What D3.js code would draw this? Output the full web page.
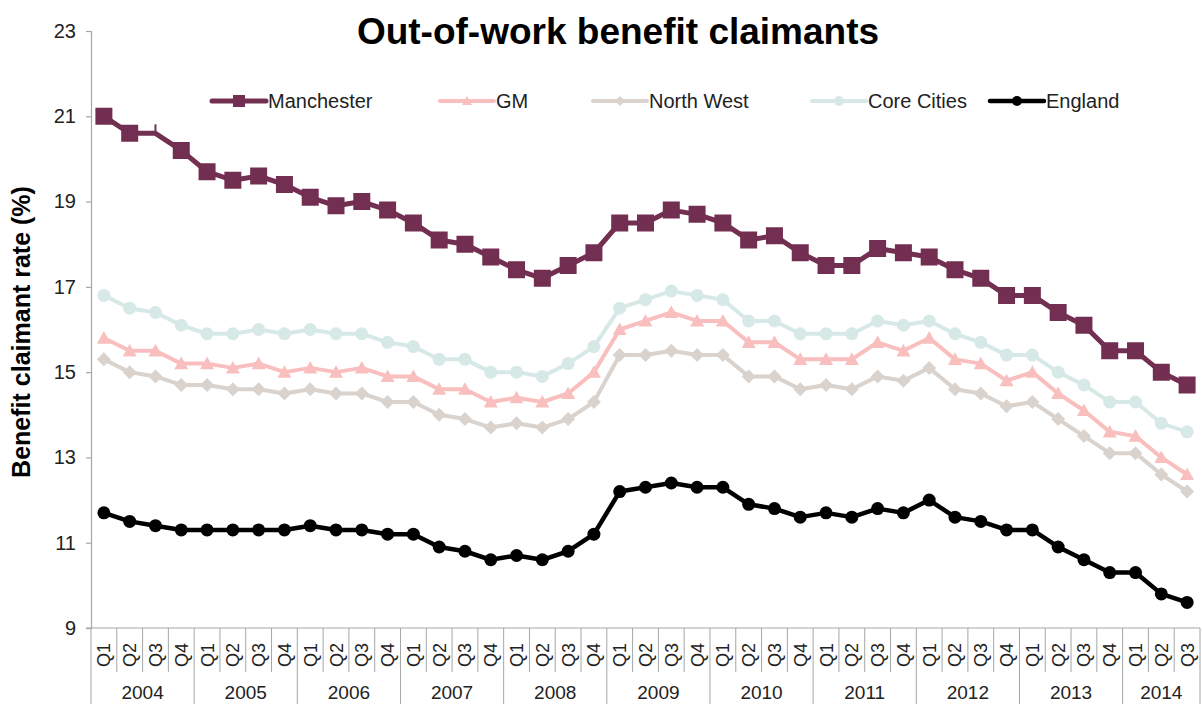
<!DOCTYPE html>
<html>
<head>
<meta charset="utf-8">
<script src="https://cdn.jsdelivr.net/npm/d3@7"></script>
<style>
  body { margin: 0; background: #fff; }
  svg { font-family: "Liberation Sans", Arial, sans-serif; }
</style>
</head>
<body>
<div id="chart"></div>
<script>
var width = 1202;
var height = 704;

var years = [2004, 2005, 2006, 2007, 2008, 2009, 2010, 2011, 2012, 2013, 2014];
var quarters = ["Q1", "Q2", "Q3", "Q4"];
var yTicks = [9, 11, 13, 15, 17, 19, 21, 23];

// 43 quarters, Q1 2004 .. Q3 2014
var manchester = [21.0, 20.6, 20.6, 20.2, 19.7, 19.5, 19.6, 19.4, 19.1, 18.9, 19.0, 18.8, 18.5, 18.1, 18.0, 17.7, 17.4, 17.2, 17.5, 17.8, 18.5, 18.5, 18.8, 18.7, 18.5, 18.1, 18.2, 17.8, 17.5, 17.5, 17.9, 17.8, 17.7, 17.4, 17.2, 16.8, 16.8, 16.4, 16.1, 15.5, 15.5, 15.0, 14.7];
var gm = [15.8, 15.5, 15.5, 15.2, 15.2, 15.1, 15.2, 15.0, 15.1, 15.0, 15.1, 14.9, 14.9, 14.6, 14.6, 14.3, 14.4, 14.3, 14.5, 15.0, 16.0, 16.2, 16.4, 16.2, 16.2, 15.7, 15.7, 15.3, 15.3, 15.3, 15.7, 15.5, 15.8, 15.3, 15.2, 14.8, 15.0, 14.5, 14.1, 13.6, 13.5, 13.0, 12.6];
var northWest = [15.3, 15.0, 14.9, 14.7, 14.7, 14.6, 14.6, 14.5, 14.6, 14.5, 14.5, 14.3, 14.3, 14.0, 13.9, 13.7, 13.8, 13.7, 13.9, 14.3, 15.4, 15.4, 15.5, 15.4, 15.4, 14.9, 14.9, 14.6, 14.7, 14.6, 14.9, 14.8, 15.1, 14.6, 14.5, 14.2, 14.3, 13.9, 13.5, 13.1, 13.1, 12.6, 12.2];
var coreCities = [16.8, 16.5, 16.4, 16.1, 15.9, 15.9, 16.0, 15.9, 16.0, 15.9, 15.9, 15.7, 15.6, 15.3, 15.3, 15.0, 15.0, 14.9, 15.2, 15.6, 16.5, 16.7, 16.9, 16.8, 16.7, 16.2, 16.2, 15.9, 15.9, 15.9, 16.2, 16.1, 16.2, 15.9, 15.7, 15.4, 15.4, 15.0, 14.7, 14.3, 14.3, 13.8, 13.6];
var england = [11.7, 11.5, 11.4, 11.3, 11.3, 11.3, 11.3, 11.3, 11.4, 11.3, 11.3, 11.2, 11.2, 10.9, 10.8, 10.6, 10.7, 10.6, 10.8, 11.2, 12.2, 12.3, 12.4, 12.3, 12.3, 11.9, 11.8, 11.6, 11.7, 11.6, 11.8, 11.7, 12.0, 11.6, 11.5, 11.3, 11.3, 10.9, 10.6, 10.3, 10.3, 9.8, 9.6];

// category list: year + quarter
var cats = [];
years.forEach(function(yr) {
  quarters.forEach(function(q) {
    if (cats.length < manchester.length) cats.push({year: yr, q: q, key: yr + q});
  });
});

// drawing order: light series first, Manchester / England on top
var series = [
  {name: "North West", values: northWest, color: "#d9d2cd", marker: "diamond", size: 14, lw: 4},
  {name: "GM", values: gm, color: "#f9bfbe", marker: "triangle", size: 14, lw: 4},
  {name: "Core Cities", values: coreCities, color: "#d7e9e7", marker: "circle", size: 13, lw: 4},
  {name: "England", values: england, color: "#000000", marker: "circle", size: 13, lw: 4.5},
  {name: "Manchester", values: manchester, color: "#722f51", marker: "square", size: 15, lw: 5}
];
var legendOrder = ["Manchester", "GM", "North West", "Core Cities", "England"];
var legendX = [212, 440, 593, 812, 990];

var pLeft = 91, pRight = 1200, pTop = 31, pBottom = 628;

var svg = d3.select("#chart").append("svg")
  .attr("width", width)
  .attr("height", height);

var x = d3.scaleBand().domain(cats.map(function(d) { return d.key; })).range([pLeft, pRight]);
var y = d3.scaleLinear().domain([9, 23]).range([pBottom, pTop]);

// y axis
var yAxis = d3.axisLeft(y).tickValues(yTicks).tickSize(5).tickPadding(10);
var gy = svg.append("g").attr("transform", "translate(" + pLeft + ",0)").call(yAxis);
gy.selectAll("path, line").attr("stroke", "#a6a6a6").attr("stroke-width", 1.2);
gy.selectAll("text").attr("font-size", 20).attr("fill", "#222");

// x axis base line
svg.append("line")
  .attr("x1", pLeft - 5).attr("x2", pRight)
  .attr("y1", pBottom).attr("y2", pBottom)
  .attr("stroke", "#a6a6a6").attr("stroke-width", 1.2);

// quarter separators and labels
var gx = svg.append("g");
cats.forEach(function(d, i) {
  var x0 = x(d.key);
  var isYear = d.q === "Q1";
  gx.append("line")
    .attr("x1", x0).attr("x2", x0)
    .attr("y1", pBottom).attr("y2", isYear ? height : 672)
    .attr("stroke", "#a6a6a6").attr("stroke-width", 1);
  gx.append("text")
    .attr("transform", "translate(" + (x0 + x.bandwidth() / 2 + 6.5) + ",655) rotate(-90)")
    .attr("text-anchor", "middle")
    .attr("font-size", 18)
    .attr("fill", "#222")
    .text(d.q);
});
gx.append("line")
  .attr("x1", pRight).attr("x2", pRight)
  .attr("y1", pBottom).attr("y2", height)
  .attr("stroke", "#a6a6a6").attr("stroke-width", 1);

// year labels
years.forEach(function(yr) {
  var yc = cats.filter(function(d) { return d.year === yr; });
  var x0 = x(yc[0].key);
  var x1 = x(yc[yc.length - 1].key) + x.bandwidth();
  gx.append("text")
    .attr("x", (x0 + x1) / 2)
    .attr("y", 699)
    .attr("text-anchor", "middle")
    .attr("font-size", 19)
    .attr("fill", "#222")
    .text(yr);
});

function markerPath(type, s) {
  var h = s / 2;
  if (type === "square") return "M" + (-h) + "," + (-h) + "h" + s + "v" + s + "h" + (-s) + "Z";
  if (type === "triangle") return "M0," + (-h) + "L" + h + "," + (h * 0.8) + "L" + (-h) + "," + (h * 0.8) + "Z";
  if (type === "diamond") return "M0," + (-h) + "L" + h + ",0L0," + h + "L" + (-h) + ",0Z";
  return d3.symbol().type(d3.symbolCircle).size(Math.PI * h * h)();
}

var line = d3.line()
  .x(function(d, i) { return x(cats[i].key) + x.bandwidth() / 2; })
  .y(function(d) { return y(d); });

series.forEach(function(s) {
  var g = svg.append("g");
  g.append("path")
    .attr("d", line(s.values))
    .attr("fill", "none")
    .attr("stroke", s.color)
    .attr("stroke-width", s.lw)
    .attr("stroke-linejoin", "round");
  g.selectAll("path.m")
    .data(s.values)
    .enter()
    .append("path")
    .attr("class", "m")
    .attr("transform", function(d, i) {
      return "translate(" + (x(cats[i].key) + x.bandwidth() / 2) + "," + y(d) + ")";
    })
    .attr("d", function(d, i) {
      // third Manchester point shows only a small tick in the original
      if (s.name === "Manchester" && i === 2) return "M0,-9V0";
      return markerPath(s.marker, s.size);
    })
    .attr("fill", s.color)
    .attr("stroke", s.color)
    .attr("stroke-width", s.name === "Manchester" ? 2 : 0);
});

// legend
legendOrder.forEach(function(name, i) {
  var s = series.filter(function(d) { return d.name === name; })[0];
  var lx = legendX[i];
  var g = svg.append("g").attr("transform", "translate(" + lx + ",101)");
  g.append("line").attr("x1", 0).attr("x2", 54).attr("y1", 0).attr("y2", 0)
    .attr("stroke", s.color).attr("stroke-width", s.lw).attr("stroke-linecap", "round");
  g.append("path").attr("transform", "translate(27,0)")
    .attr("d", markerPath(s.marker, s.marker === "square" ? 12 : 10))
    .attr("fill", s.color);
  g.append("text").attr("x", 56).attr("y", 7)
    .attr("font-size", 20).attr("fill", "#222").text(name);
});

// title
svg.append("text")
  .attr("x", 618).attr("y", 44)
  .attr("text-anchor", "middle")
  .attr("font-size", 37).attr("font-weight", "bold")
  .attr("fill", "#000")
  .text("Out-of-work benefit claimants");

// y axis title
svg.append("text")
  .attr("transform", "translate(30,332) rotate(-90)")
  .attr("text-anchor", "middle")
  .attr("font-size", 25).attr("font-weight", "bold")
  .attr("fill", "#000")
  .text("Benefit claimant rate (%)");
</script>
</body>
</html>
